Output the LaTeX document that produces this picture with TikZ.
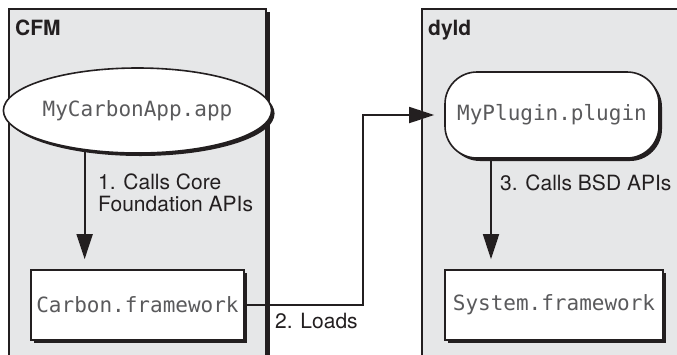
\documentclass[tikz,border=0pt]{standalone}
\usepackage{fontspec}
\setmainfont{TeX Gyre Heros}
\newfontfamily\codefont{DejaVu Sans Mono}
\usetikzlibrary{arrows.meta,shapes.geometric,shadows}
\definecolor{panelgray}{HTML}{E6E7E8}
\definecolor{inkblack}{HTML}{231F20}
\definecolor{codegray}{HTML}{5A5A5C}
\tikzset{
  panel/.style={fill=panelgray,draw=inkblack,line width=1.6pt},
  panelshadow/.style={fill=inkblack},
  codenode/.style={draw=inkblack,fill=white,line width=1.6pt,inner sep=0pt,
    font=\codefont\fontsize{21}{22}\selectfont,text=codegray,
    drop shadow={shadow xshift=3pt,shadow yshift=-3pt,fill=inkblack,opacity=1}},
  paneltitle/.style={anchor=base west,inner sep=0pt,text=inkblack,
    font=\bfseries\fontsize{21}{22}\selectfont},
  lbl/.style={inner sep=0pt,text=inkblack,font=\fontsize{21}{22}\selectfont},
  conn/.style={draw=inkblack,line width=1.8pt,
    -{Triangle[width=16pt,length=25pt]}},
  halo/.style={draw=white,line width=1.8pt,
    -{Triangle[width=16pt,length=25pt]},xshift=2pt,yshift=-2pt}
}
\begin{document}
\begin{tikzpicture}[x=1pt,y=-1pt]
\useasboundingbox (0,0) rectangle (677,354);
\clip (0,0) rectangle (677,354);
% panels
\fill[panelshadow] (12,12) rectangle (269.5,370);
\draw[panel] (9,9) rectangle (266,370);
\fill[panelshadow] (425,12) rectangle (700,370);
\draw[panel] (422,9) rectangle (697,370);
\node[paneltitle] (cfm) at (15,35) {CFM};
\node[paneltitle] (dyld) at (428,35) {dyld};
% nodes
\node[codenode,ellipse,minimum width=215pt,minimum height=85pt] (app) at (137.5,110.5) {MyCarbonApp.app};
\node[codenode,rectangle,minimum width=213pt,minimum height=70pt] (carbon) at (137.5,305) {Carbon.framework};
\node[codenode,rectangle,rounded corners=32pt,minimum width=214pt,minimum height=86pt] (plugin) at (552,115) {MyPlugin.plugin};
\node[codenode,rectangle,minimum width=218pt,minimum height=70pt] (system) at (554,305) {System.framework};
% connectors: white halo first, then black
\draw[halo,shorten >=10pt] (app.217) -- (app.217 |- carbon.north);
\draw[conn,shorten >=10pt] (app.217) -- (app.217 |- carbon.north);
\draw[halo,shorten >=10pt] (carbon.east) -- ++(118,0) |- (plugin.west);
\draw[conn,shorten >=10pt] (carbon.east) -- ++(118,0) |- (plugin.west);
\draw[halo,shorten >=10pt] ([xshift=-61pt]plugin.south) -- ([xshift=-61pt]plugin.south |- system.north);
\draw[conn,shorten >=10pt] ([xshift=-61pt]plugin.south) -- ([xshift=-61pt]plugin.south |- system.north);
% labels
\node[lbl,anchor=north west,align=left] (l1) at (98,173.5) {1. Calls Core\\Foundation APIs};
\node[lbl,anchor=base west] (l2) at (275,328) {2. Loads};
\node[lbl,anchor=base west] (l3) at (500,190) {3. Calls BSD APIs};
\end{tikzpicture}
\end{document}
